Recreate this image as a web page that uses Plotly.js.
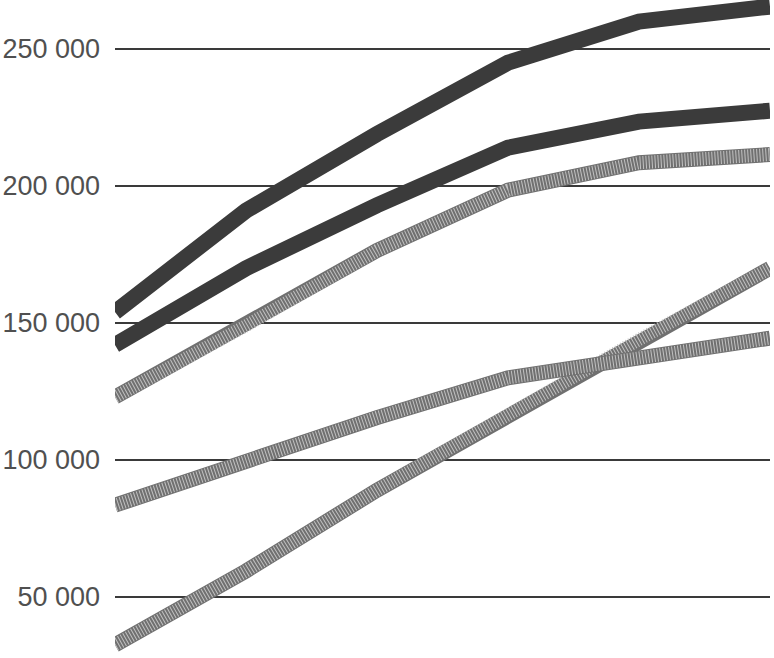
<!DOCTYPE html>
<html>
<head>
<meta charset="utf-8">
<script src="https://cdn.plot.ly/plotly-3.0.1.min.js"></script>
<style>
  html, body { margin: 0; padding: 0; background: #fff; }
  #chart { width: 774px; height: 658px; }
</style>
</head>
<body>
<div id="chart"></div>
<script>
// Category positions (six unlabeled points along the x axis)
const periods = [0, 1, 2, 3, 4, 5];

// Series values
const seriesA = [154000, 191000, 219000, 245000, 260000, 265500];   // dark, top
const seriesB = [142000, 170000, 193000, 214000, 223500, 227500];   // dark, second
const seriesC = [123000, 149000, 176500, 198500, 208500, 211500];   // hatched, upper
const seriesD = [83500, 99500, 115500, 130000, 137500, 144500];     // hatched, middle
const seriesE = [32500, 59500, 89000, 116500, 144000, 170000];      // hatched, steep

const tickValues = [50000, 100000, 150000, 200000, 250000];

const dark = '#3b3b3b';
const W = 16;

function solid(y, color) {
  return { x: periods, y: y, mode: 'lines', showlegend: false, hoverinfo: 'skip',
           line: { color: color, width: W, shape: 'linear' } };
}
function hatchBase(y) {
  return { x: periods, y: y, mode: 'lines', showlegend: false, hoverinfo: 'skip',
           line: { color: '#707070', width: W - 1 } };
}
function hatchTop(y) {
  return { x: periods, y: y, mode: 'lines', showlegend: false, hoverinfo: 'skip',
           line: { color: '#c2c2c2', width: W - 3, dash: '1px,2px' } };
}

const data = [
  hatchBase(seriesE), hatchTop(seriesE),
  hatchBase(seriesD), hatchTop(seriesD),
  hatchBase(seriesC), hatchTop(seriesC),
  solid(seriesB, dark),
  solid(seriesA, dark)
];

const layout = {
  width: 774, height: 658,
  margin: { l: 115, r: 4, t: 0, b: 0, pad: 0 },
  paper_bgcolor: '#ffffff', plot_bgcolor: '#ffffff',
  separators: '. ',
  showlegend: false,
  xaxis: { range: [0, 5], visible: false, showgrid: false, zeroline: false },
  yaxis: {
    range: [27740, 267900],
    tickvals: tickValues,
    tickformat: ',d',
    showgrid: true, gridcolor: '#3a3a3a', gridwidth: 1.2,
    zeroline: false, showline: false, ticks: '',
    ticklabelstandoff: 14,
    tickfont: { family: 'Liberation Sans, Arial, sans-serif', size: 27, color: '#505050' }
  }
};

Plotly.newPlot('chart', data, layout, { displayModeBar: false, staticPlot: true });
</script>
</body>
</html>
